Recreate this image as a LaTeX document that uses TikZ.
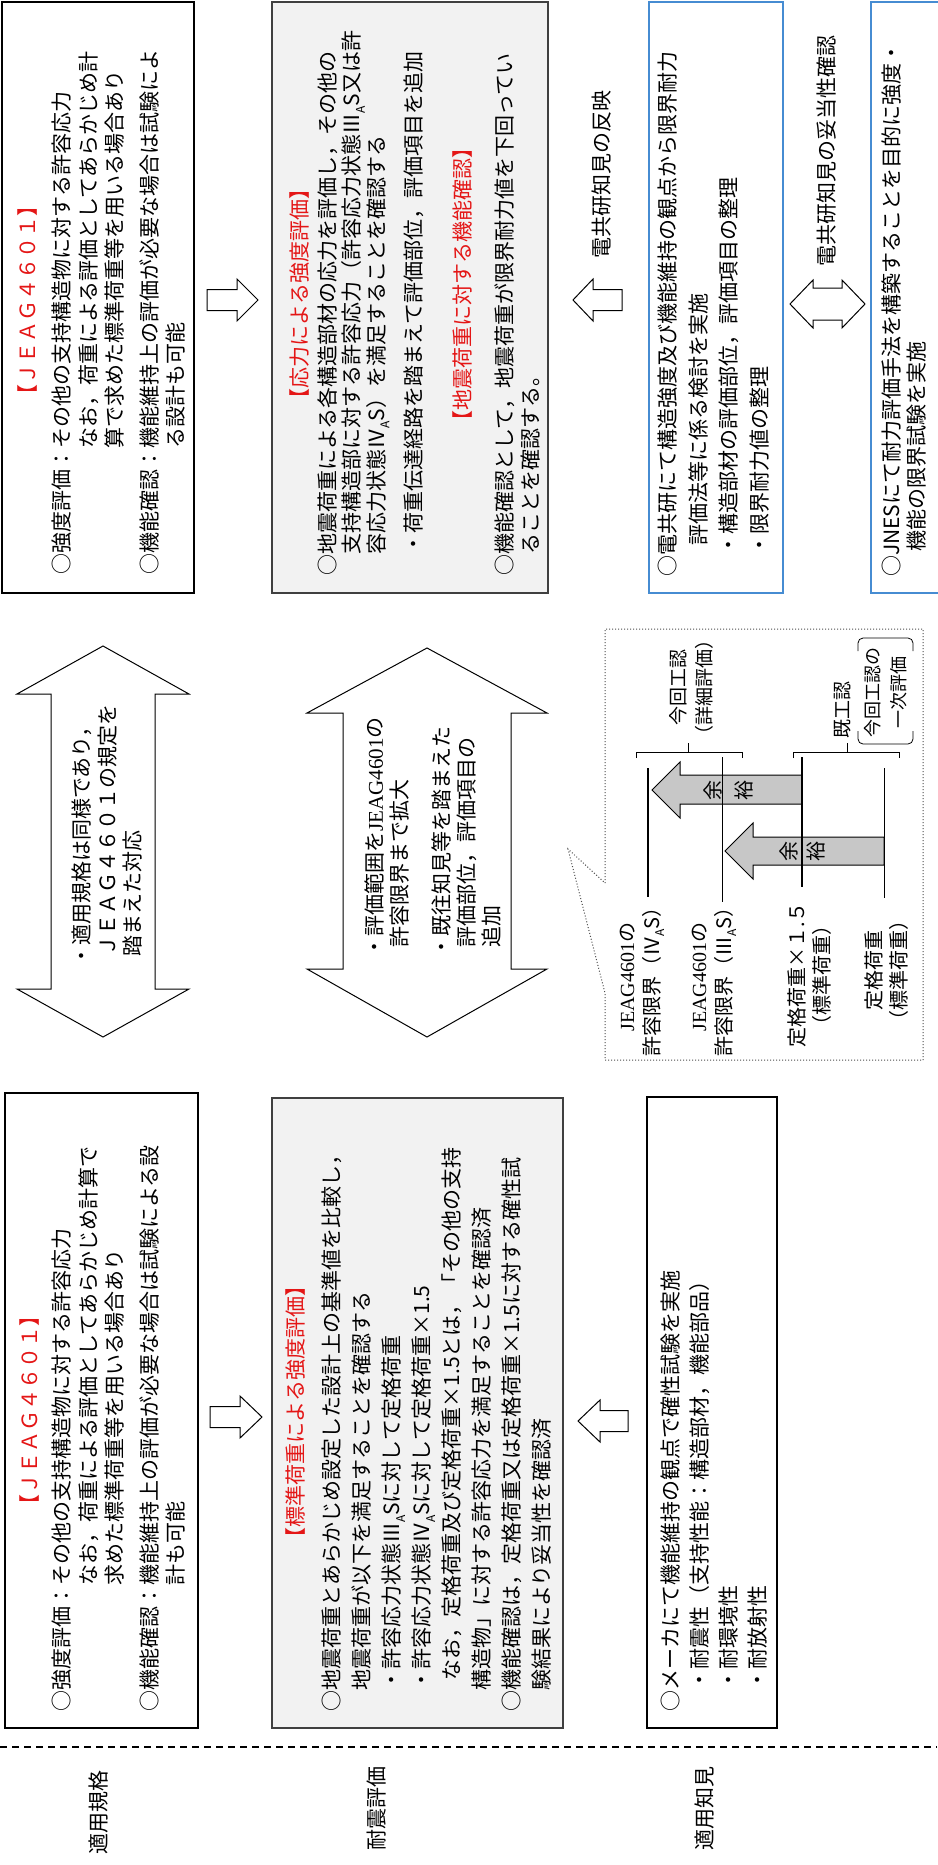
\documentclass[tikz,border=0pt]{standalone}
\usepackage{fontspec}
\setmainfont{Noto Sans CJK JP}
\newfontfamily\lat{Liberation Serif}
\definecolor{jred}{RGB}{228,22,22}
\definecolor{jblue}{RGB}{70,140,210}
\definecolor{jgray}{RGB}{242,242,242}
\newcommand\sA{\raisebox{-0.25em}{\fontsize{12}{12}\selectfont A}}
\newcommand\jfs[1]{\fontsize{21}{#1}\selectfont}
\begin{document}
\begin{tikzpicture}[x=1pt,y=-1pt,
  box/.style={draw=black, line width=1.2pt},
  gbox/.style={draw=black!75, fill=jgray, line width=1.5pt},
  bbox/.style={draw=jblue, line width=1.5pt},
  harrow/.style={draw=black, fill=white, line width=1pt, line join=miter},
  marrow/.style={draw=black, fill=black!22, line width=1pt},
  txt/.style={rotate=90, inner sep=0pt, align=left, anchor=north west},
  ttl/.style={rotate=90, inner sep=0pt, text=jred, anchor=center, font=\jfs{26}},
  lbl/.style={rotate=90, inner sep=0pt, align=center},
  thickln/.style={line width=2.6pt},
  thinln/.style={line width=1pt},
  brk/.style={line width=0.8pt}
]
\useasboundingbox (0,0) rectangle (937,1865);

% ---------------- top row ----------------
\draw[box] (2,2) rectangle (194,593);
\node[ttl] (tA) at (28,300) {【ＪＥＡＧ４６０１】};
\node[txt, font=\jfs{26.5}] (pA) at (52,575) {○強度評価：その他の支持構造物に対する許容応力\\
\hspace*{6em}なお，荷重による評価としてあらかじめ計\\
\hspace*{6em}算で求めた標準荷重等を用いる場合あり\\[8pt]
○機能確認：機能維持上の評価が必要な場合は試験によ\\
\hspace*{6em}る設計も可能};

\draw[harrow] (207,289.5) -- (237,289.5) -- (237,279) -- (258,300) -- (237,321) -- (237,310.5) -- (207,310.5) -- cycle;

\draw[gbox] (272,2) rectangle (548,593);
\node[ttl] (tG1) at (300,294) {【応力による強度評価】};
\node[txt, font=\jfs{24.5}] (pG1) at (317,576) {○地震荷重による各構造部材の応力を評価し，その他の\\
\hspace*{1em}支持構造部に対する許容応力（許容応力状態Ⅲ\sA S又は許\\
\hspace*{1em}容応力状態Ⅳ\sA S）を満足することを確認する\\[13pt]
\hspace*{1em}・荷重伝達経路を踏まえて評価部位，評価項目を追加};
\node[ttl] (tG2) at (463,284) {【地震荷重に対する機能確認】};
\node[txt, font=\jfs{26}] (pG2) at (495,576) {○機能確認として，地震荷重が限界耐力値を下回ってい\\
\hspace*{1em}ることを確認する。};

\draw[harrow] (622,289.5) -- (593,289.5) -- (593,279) -- (573,300) -- (593,321) -- (593,310.5) -- (622,310.5) -- cycle;
\node[lbl, font=\jfs{26}, anchor=west] (rL1) at (602,259) {電共研知見の反映};

\draw[bbox] (649,2) rectangle (783,593);
\node[txt, font=\jfs{30.5}] (pB1) at (658,577) {○電共研にて構造強度及び機能維持の観点から限界耐力\\
\hspace*{1.5em}評価法等に係る検討を実施\\
\hspace*{1em}・構造部材の評価部位，評価項目の整理\\
\hspace*{1em}・限界耐力値の整理};

\draw[harrow] (790,304) -- (813,280) -- (813,288) -- (842,288) -- (842,280) -- (865,304) -- (842,328) -- (842,320) -- (813,320) -- (813,328) -- cycle;
\node[lbl, font=\jfs{26}, anchor=west] (rL2) at (827,267) {電共研知見の妥当性確認};

\draw[bbox] (871,2) rectangle (950,593);
\node[txt, font=\jfs{25}] (pB2) at (882,577) {○JNESにて耐力評価手法を構築することを目的に強度・\\
\hspace*{1.2em}機能の限界試験を実施};

% ---------------- middle ----------------
\draw[harrow] (103,646) -- (189,694) -- (155,694) -- (155,989) -- (189,989) -- (103,1037) -- (17,989) -- (51,989) -- (51,694) -- (17,694) -- cycle;
\node[txt, font=\jfs{25.5}] (mL) at (72,967) {・適用規格は同様であり，\\
\hspace*{0.5em}ＪＥＡＧ４６０１の規定を\\
\hspace*{0.5em}踏まえた対応};

\draw[harrow] (427,648) -- (547,713) -- (511,713) -- (511,969) -- (547,969) -- (427,1037) -- (307,969) -- (343,969) -- (343,713) -- (307,713) -- cycle;
\node[txt, font=\jfs{25}] (mR) at (365,958) {・評価範囲を{\lat JEAG4601}の\\
\hspace*{0.5em}許容限界まで拡大\\[17pt]
・既往知見等を踏まえた\\
\hspace*{0.5em}評価部位，評価項目の\\
\hspace*{0.5em}追加};

% callout graph
\draw[dotted, black!70, line width=1pt] (605,883) -- (605,629) -- (923,629) -- (923,1060) -- (605,1060) -- (605,993) -- (568,849) -- cycle;

\draw[marrow] (802,775) -- (680,775) -- (680,762) -- (652,790) -- (680,818) -- (680,804) -- (802,804) -- cycle;
\draw[marrow] (884,837) -- (753,837) -- (753,823) -- (725,851) -- (753,879) -- (753,865) -- (884,865) -- cycle;
\node[lbl, font=\fontsize{20}{31}\selectfont] (y1) at (728,790) {余\\裕};
\node[lbl, font=\fontsize{20}{27}\selectfont] (y2) at (802,851) {余\\裕};

\draw[thickln] (648,768) -- (648,897);
\draw[thinln] (722,757) -- (722,902);
\draw[thickln] (802,757) -- (802,887);
\draw[thinln] (884,768) -- (884,898);

\draw[brk] (636,758) -- (636,752) -- (742,752) -- (742,758);
\draw[brk] (688,752) -- (688,743);
\draw[brk] (793,758) -- (793,752) -- (899,752) -- (899,758);
\draw[brk] (847,752) -- (847,743);
\draw[brk, rounded corners=5pt] (858,731) -- (858,744) -- (913,744) -- (913,731);
\draw[brk, rounded corners=5pt] (858,651) -- (858,638) -- (913,638) -- (913,651);

\node[lbl, font=\fontsize{19}{26}\selectfont, anchor=west] (k1) at (691,745) {今回工認\\（詳細評価）};
\node[lbl, font=\fontsize{19}{26}\selectfont, anchor=west] (k2) at (843,739) {既工認};
\node[lbl, font=\fontsize{18}{26}\selectfont] (k3) at (886,692) {今回工認の\\一次評価};

\node[lbl, font=\fontsize{20}{25}\selectfont] (g1) at (642,977) {{\lat JEAG4601}の\\許容限界（Ⅳ\sA S）};
\node[lbl, font=\fontsize{20}{25}\selectfont] (g2) at (714,977) {{\lat JEAG4601}の\\許容限界（Ⅲ\sA S）};
\node[lbl, font=\fontsize{20}{25}\selectfont] (g3) at (810,975) {定格荷重×１.５\\（標準荷重）};
\node[lbl, font=\fontsize{20}{25}\selectfont] (g4) at (887,970) {定格荷重\\（標準荷重）};

% ---------------- bottom row ----------------
\draw[box] (5,1093) rectangle (198,1728);
\node[ttl] (tA2) at (30,1410) {【ＪＥＡＧ４６０１】};
\node[txt, font=\jfs{26.5}] (pA2) at (52,1712) {○強度評価：その他の支持構造物に対する許容応力\\
\hspace*{6em}なお，荷重による評価としてあらかじめ計算で\\
\hspace*{6em}求めた標準荷重等を用いる場合あり\\[8pt]
○機能確認：機能維持上の評価が必要な場合は試験による設\\
\hspace*{6em}計も可能};

\draw[harrow] (210,1406.5) -- (240,1406.5) -- (240,1396) -- (262,1417) -- (240,1438) -- (240,1427.5) -- (210,1427.5) -- cycle;

\draw[gbox] (272,1098) rectangle (563,1728);
\node[ttl] (tG3) at (296,1412) {【標準荷重による強度評価】};
\node[txt, font=\jfs{30}] (pG3) at (322,1712) {○地震荷重とあらかじめ設定した設計上の基準値を比較し，\\
\hspace*{1em}地震荷重が以下を満足することを確認する\\
\hspace*{1em}・許容応力状態Ⅲ\sA Sに対して定格荷重\\
\hspace*{1em}・許容応力状態Ⅳ\sA Sに対して定格荷重×1.5\\
\hspace*{1.5em}なお，定格荷重及び定格荷重×1.5とは，「その他の支持\\
\hspace*{1em}構造物」に対する許容応力を満足することを確認済\\
○機能確認は，定格荷重又は定格荷重×1.5に対する確性試\\
\hspace*{1em}験結果により妥当性を確認済};

\draw[harrow] (628,1410.5) -- (600,1410.5) -- (600,1400) -- (578,1421) -- (600,1442) -- (600,1431.5) -- (628,1431.5) -- cycle;

\draw[box] (647,1097) rectangle (777,1728);
\node[txt, font=\jfs{29}] (pM) at (661,1712) {○メーカにて機能維持の観点で確性試験を実施\\
\hspace*{1em}・耐震性（支持性能：構造部材，機能部品）\\
\hspace*{1em}・耐環境性\\
\hspace*{1em}・耐放射性};

% ---------------- row labels ----------------
\draw[dash pattern=on 7pt off 5pt, line width=1.2pt] (0,1747) -- (937,1747);
\node[lbl, font=\jfs{26}] (L1) at (99,1812) {適用規格};
\node[lbl, font=\jfs{26}] (L2) at (377,1808) {耐震評価};
\node[lbl, font=\jfs{26}] (L3) at (705,1808) {適用知見};
\end{tikzpicture}
\end{document}
